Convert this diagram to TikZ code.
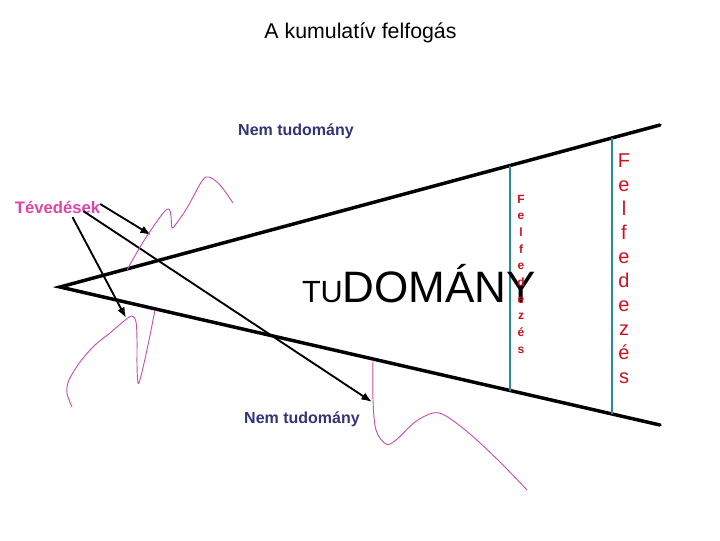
\documentclass[tikz,border=0pt]{standalone}
\usepackage{fontspec}
\setmainfont{Liberation Sans}
\usetikzlibrary{calc,arrows.meta}
\definecolor{navy}{RGB}{51,51,120}
\definecolor{pinktext}{RGB}{220,68,170}
\definecolor{redtext}{RGB}{204,17,34}
\definecolor{tealline}{RGB}{40,140,150}
\definecolor{pinkline}{RGB}{200,80,175}
\tikzset{
  txt/.style={inner sep=0pt, outer sep=0pt},
  frame/.style={line width=2.6pt, black, line cap=round},
  divider/.style={line width=0.8pt, tealline},
  arr/.style={line width=1.4pt, black, -{Latex[length=8pt,width=6pt]}},
  scrib/.style={line width=0.7pt, pinkline},
}
\begin{document}
\begin{tikzpicture}[x=0.75pt,y=-0.75pt]
\useasboundingbox (0,0) rectangle (720,540);
% title
\node[txt, anchor=base, font=\fontsize{16}{19}\selectfont] (title) at (360.5,38) {A kumulatív felfogás};
% frame
\coordinate (apex) at (60,287);
\coordinate (uend) at (660,125);
\coordinate (lend) at (660,425);
\draw[frame] (uend) -- (apex) -- (lend);
% dividers
\coordinate (d1t) at ($(apex)!0.75!(uend)$);
\coordinate (d1b) at ($(apex)!0.75!(lend)$);
\coordinate (d2t) at ($(apex)!0.92!(uend)$);
\coordinate (d2b) at ($(apex)!0.92!(lend)$);
\draw[divider] (d1t) -- (d1b);
\draw[divider] (d2t) -- (d2b);
% labels
\node[txt, anchor=base, font=\bfseries\fontsize{12}{14}\selectfont, text=navy] (nt1) at (296,135) {Nem tudomány};
\node[txt, anchor=base, font=\bfseries\fontsize{12}{14}\selectfont, text=navy] (nt2) at (302,423) {Nem tudomány};
\node[txt, anchor=base, font=\bfseries\fontsize{12.5}{14}\selectfont, text=pinktext] (tev) at (57.5,213) {Tévedések};
\node[txt, anchor=base west] (tud) at (302,302) {{\fontsize{23}{26}\selectfont TU}{\fontsize{33}{38}\selectfont DOMÁNY}};
% vertical Felfedezés texts
\foreach \ch [count=\i from 0] in {F,e,l,f,e,d,e,z,é,s} {
  \node[txt, anchor=base, font=\bfseries\fontsize{9}{10}\selectfont, text=redtext] (sf\i) at (521,{203+\i*16.7}) {\ch};
  \node[txt, anchor=base, font=\fontsize{15}{17}\selectfont, text=redtext] (lf\i) at (624,{167+\i*24}) {\ch};
}
% arrows
\coordinate (t1) at (151,235);
\coordinate (t2) at (372,402);
\coordinate (t3) at (126,318);
\draw[arr] ($(tev.east)+(0,-3)$) -- (t1);
\draw[arr] ($(tev.south)+(26,-2)$) -- (t2);
\draw[arr] ($(tev.south)+(15,4)$) -- (t3);
% scribbles
\draw[scrib] plot[smooth, tension=0.55] coordinates {(127,270) (140,247) (153,227) (164,212) (169,209) (171,216) (172,228) (176,224) (187,208) (202,181) (209,177) (220,185) (233,203)};
\draw[scrib] plot[smooth, tension=0.55] coordinates {(72,407) (67,393) (69,380) (80,362) (95,345) (110,333) (124,321) (132,316) (136,322) (137,340) (137,365) (138,383) (141,376) (148,345) (155,310)};
\draw[scrib] plot[smooth, tension=0.55] coordinates {(373,360) (373,400) (376,430) (386,444) (396,440) (415,422) (433,413) (446,416) (470,434) (500,462) (527,490)};
\end{tikzpicture}
\end{document}
